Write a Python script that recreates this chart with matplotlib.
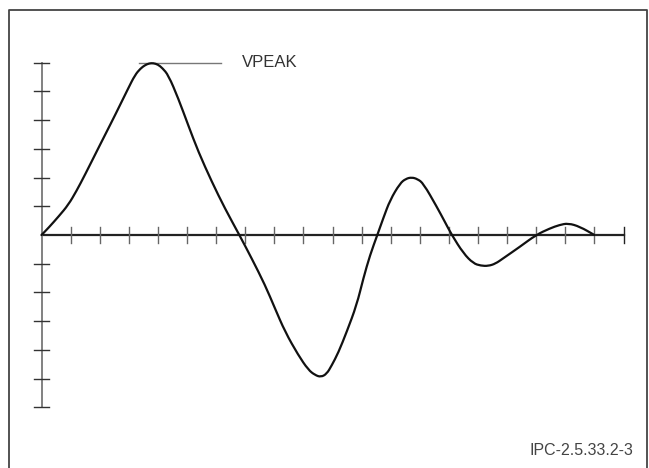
import matplotlib
matplotlib.use('Agg')
import matplotlib.pyplot as plt
from matplotlib.lines import Line2D
from matplotlib.path import Path
from matplotlib.patches import PathPatch

plt.rcParams['font.family'] = ['Liberation Sans', 'DejaVu Sans']

# waveform (grid units: one tick = 1)
wave_x = [0, 0.25, 0.6, 0.92, 1.2, 1.49, 1.95, 2.24, 2.53, 2.98, 3.21, 3.4, 3.56,
          3.7, 3.84, 4.0, 4.15, 4.36, 4.7, 5.04, 5.39, 5.85, 6.3, 6.8, 7.22,
          7.68, 8.02, 8.37, 8.82, 9.17, 9.4, 9.6, 9.8, 9.97, 10.2, 10.49, 10.83,
          11.06, 11.29, 11.54, 11.75, 11.98, 12.32, 12.52, 12.72, 12.92, 13.12,
          13.58, 13.85, 14.1, 14.5, 14.84, 15.1, 15.35, 15.6, 15.87, 16.44,
          16.99, 17.47, 17.8, 18.1, 18.5, 19.0]
wave_y = [0, 0.26, 0.66, 1.05, 1.53, 2.09, 3.02, 3.6, 4.18, 5.11, 5.57, 5.8, 5.92,
          5.98, 5.99, 5.94, 5.82, 5.57, 4.76, 3.83, 2.9, 1.86, 0.93, 0.0, -0.81,
          -1.74, -2.55, -3.37, -4.18, -4.7, -4.88, -4.95, -4.84, -4.55, -4.1,
          -3.37, -2.44, -1.51, -0.7, 0.0, 0.6, 1.22, 1.8, 1.96, 2.01, 1.95, 1.8,
          0.99, 0.48, 0.0, -0.64, -0.99, -1.07, -1.08, -1.0, -0.81, -0.41,
          0.0, 0.23, 0.35, 0.41, 0.29, 0.0]

x_ticks = list(range(1, 21))
y_ticks = [v for v in range(-6, 7) if v != 0]
peak_level = 6.0
peak_label = 'VPEAK'
fig_label = 'IPC-2.5.33.2-3'

W, H = 649, 468
ox, oy = 41.5, 235      # origin in pixels
ux, uy = 29.1, 28.7     # pixels per grid unit


def smooth_path(xs, ys):
    # quadratic curve through midpoints, points act as control points
    pts = list(zip(xs, ys))
    verts = [pts[0]]
    codes = [Path.MOVETO]
    mid = lambda a, b: ((a[0] + b[0]) / 2, (a[1] + b[1]) / 2)
    verts.append(mid(pts[0], pts[1]))
    codes.append(Path.LINETO)
    for i in range(1, len(pts) - 1):
        verts += [pts[i], mid(pts[i], pts[i + 1])]
        codes += [Path.CURVE3, Path.CURVE3]
    verts.append(pts[-1])
    codes.append(Path.LINETO)
    return Path(verts, codes)


fig = plt.figure(figsize=(W / 100, H / 100), dpi=100)
ax = fig.add_axes([0, 0, 1, 1])
ax.set_xlim(-ox / ux, (W - ox) / ux)
ax.set_ylim(-(H - oy) / uy, oy / uy)
ax.axis('off')

# frame (open at the bottom)
fig.add_artist(Line2D([9 / W, 9 / W, 647 / W, 647 / W],
                      [0, 1 - 10 / H, 1 - 10 / H, 0],
                      transform=fig.transFigure, color='#444444', lw=1.3))

# axes
ax.plot([0, 20], [0, 0], color='#222222', lw=1.6, zorder=2)
ax.plot([0, 0], [-6, 6], color='#777777', lw=1.3, zorder=2)
tx = 0.28
for t in x_ticks:
    c = '#222222' if t == 20 else '#666666'
    ax.plot([t, t], [-tx, tx], color=c, lw=1.0, zorder=2)
ty = 0.26
for t in y_ticks:
    ax.plot([-ty, ty], [t, t], color='#333333', lw=1.0, zorder=2)

# curve
ax.add_patch(PathPatch(smooth_path(wave_x, wave_y), facecolor='none',
                       edgecolor='#111111', lw=1.6, capstyle='round',
                       joinstyle='round', zorder=3))

# VPEAK marker
ax.plot([3.35, 6.16], [peak_level, peak_level], color='#777777', lw=1.0)
ax.text(6.88, peak_level, peak_label, fontsize=12, color='#333333',
        va='center', ha='left')

fig.text(633 / W, 1 - 455 / H, fig_label, fontsize=11.5, color='#444444',
         ha='right', va='baseline')

fig.savefig('out.png', dpi=100)
